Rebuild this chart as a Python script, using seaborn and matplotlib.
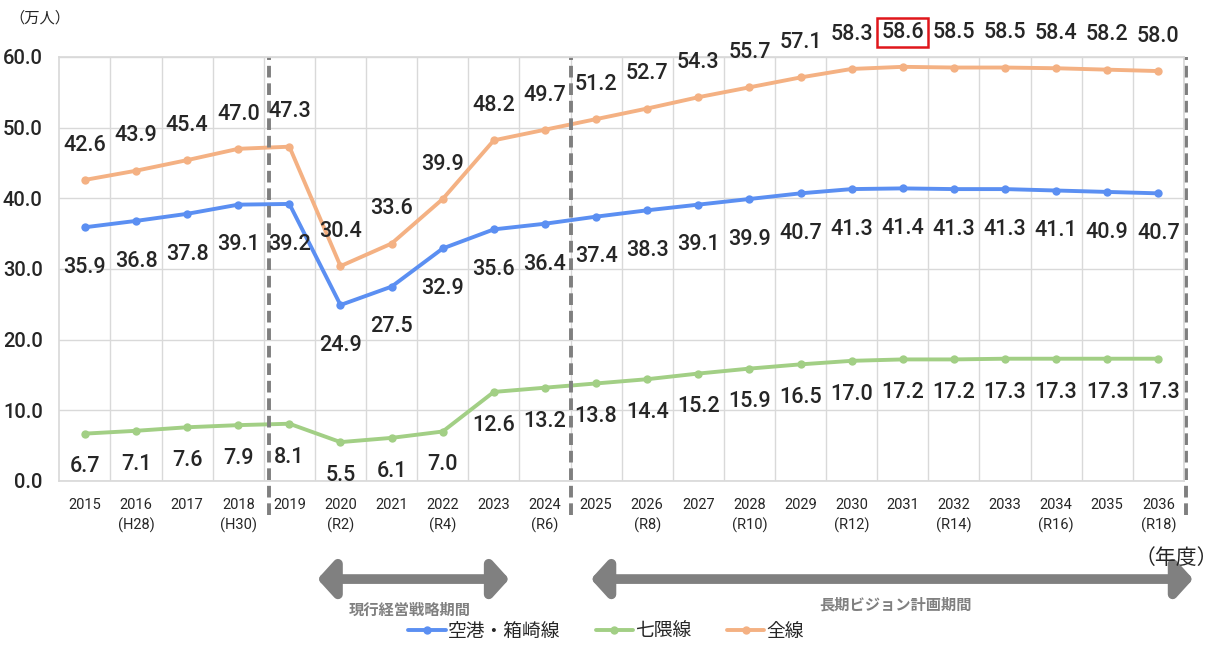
import pandas as pd
import numpy as np
import matplotlib
matplotlib.use("Agg")
import matplotlib.pyplot as plt
import seaborn as sns

sns.set_theme(style="white")
plt.rcParams['font.family'] = ['Roboto', 'Noto Sans CJK JP', 'DejaVu Sans']

# data
years = ["2015", "2016\n(H28)", "2017", "2018\n(H30)", "2019", "2020\n(R2)", "2021",
         "2022\n(R4)", "2023", "2024\n(R6)", "2025", "2026\n(R8)", "2027", "2028\n(R10)",
         "2029", "2030\n(R12)", "2031", "2032\n(R14)", "2033", "2034\n(R16)", "2035",
         "2036\n(R18)"]
kuko = [35.9, 36.8, 37.8, 39.1, 39.2, 24.9, 27.5, 32.9, 35.6, 36.4, 37.4, 38.3, 39.1,
        39.9, 40.7, 41.3, 41.4, 41.3, 41.3, 41.1, 40.9, 40.7]
nanakuma = [6.7, 7.1, 7.6, 7.9, 8.1, 5.5, 6.1, 7.0, 12.6, 13.2, 13.8, 14.4, 15.2, 15.9,
            16.5, 17.0, 17.2, 17.2, 17.3, 17.3, 17.3, 17.3]
zensen = [42.6, 43.9, 45.4, 47.0, 47.3, 30.4, 33.6, 39.9, 48.2, 49.7, 51.2, 52.7, 54.3,
          55.7, 57.1, 58.3, 58.6, 58.5, 58.5, 58.4, 58.2, 58.0]
series_names = ["空港・箱崎線", "七隈線", "全線"]
colors = {"空港・箱崎線": "#5b8ff2", "七隈線": "#a2cf85", "全線": "#f4b183"}

idx = np.arange(len(years))
df = pd.DataFrame({"x": np.tile(idx, 3),
                   "value": kuko + nanakuma + zensen,
                   "line": np.repeat(series_names, len(years))})

fig = plt.figure(figsize=(12.19, 6.47), dpi=100)
ax = fig.add_axes([0.0487, 0.2566, 0.9225, 0.6554])

sns.lineplot(data=df, x="x", y="value", hue="line", palette=colors, marker="o",
             markersize=6, markeredgewidth=0, linewidth=2.8, ax=ax, legend=False)

ax.set_xlim(-0.5, len(years) - 0.5)
ax.set_ylim(0, 60)
ax.set_yticks(np.arange(0, 61, 10))
ax.set_yticklabels([f"{v:.1f}" for v in np.arange(0, 61, 10)], fontsize=14.5, fontweight="medium")
ax.set_xticks(idx)
ax.set_xticklabels(years, fontsize=10.5, linespacing=1.5)
ax.set_xlabel("")
ax.set_ylabel("")
ax.tick_params(axis="x", pad=12, length=0)
ax.tick_params(axis="y", pad=12, length=0)
ax.set_xticks(idx + 0.5, minor=True)
ax.grid(False)
ax.grid(True, which="minor", axis="x", color="#d9d9d9", lw=1)
ax.grid(True, which="major", axis="y", color="#d9d9d9", lw=1)
for s in ax.spines.values():
    s.set_color("#d9d9d9")

# value labels
for i in idx:
    t = ax.annotate(f"{zensen[i]:.1f}", (i, zensen[i]), xytext=(0, 25), textcoords="offset points",
                    ha="center", va="center", fontsize=15.5, fontweight="medium",
                    annotation_clip=False)
    if i == 16:
        t.set_bbox(dict(facecolor="none", edgecolor="#e0161b", lw=1.8, pad=3))
    ax.annotate(f"{kuko[i]:.1f}", (i, kuko[i]), xytext=(0, -29), textcoords="offset points",
                ha="center", va="center", fontsize=15.5, fontweight="medium")
    ax.annotate(f"{nanakuma[i]:.1f}", (i, nanakuma[i]), xytext=(0, -24), textcoords="offset points",
                ha="center", va="center", fontsize=15.5, fontweight="medium", annotation_clip=False)

# period dividers
for xv in [3.6, 9.5, 21.55]:
    ax.vlines(xv, -4.8, 60, colors="#7f7f7f", linestyles=(0, (3, 1.5)), lw=2.8, clip_on=False)

# period arrows
arrow = dict(arrowstyle="<|-|>,head_length=0.5,head_width=0.55", lw=7, color="#808080",
             shrinkA=0, shrinkB=0, mutation_scale=20)
ax.annotate("", xy=(8.3, 0.105), xytext=(4.55, 0.105), xycoords=("data", "figure fraction"),
            textcoords=("data", "figure fraction"), arrowprops=arrow, annotation_clip=False)
ax.annotate("", xy=(21.68, 0.105), xytext=(9.9, 0.105), xycoords=("data", "figure fraction"),
            textcoords=("data", "figure fraction"), arrowprops=arrow, annotation_clip=False)
fig.text(410 / 1219, 1 - 610 / 647, "現行経営戦略期間", ha="center", va="center", fontsize=11,
         color="#808080", fontweight="bold", family=["Noto Sans CJK JP", "DejaVu Sans"])
fig.text(895 / 1219, 1 - 604 / 647, "長期ビジョン計画期間", ha="center", va="center", fontsize=11,
         color="#808080", fontweight="bold", family=["Noto Sans CJK JP", "DejaVu Sans"])

fig.text(40 / 1219, 1 - 18 / 647, "（万人）", ha="center", va="center", fontsize=11,
         family=["Noto Sans CJK JP", "DejaVu Sans"])
fig.text(1218 / 1219, 1 - 558 / 647, "（年度）", ha="right", va="center", fontsize=15,
         family=["Noto Sans CJK JP", "DejaVu Sans"])

# legend
handles = [plt.Line2D([], [], color=colors[n], marker="o", markersize=6, lw=2.8,
                      markeredgewidth=0) for n in series_names]
leg = fig.legend(handles, series_names, loc="center", bbox_to_anchor=(0.497, 0.024), ncol=3,
                 frameon=False, handlelength=2.0, handletextpad=0.1, columnspacing=1.9,
                 prop={"family": ["Noto Sans CJK JP", "DejaVu Sans"], "size": 13.5})

fig.savefig("out.png", dpi=100)
